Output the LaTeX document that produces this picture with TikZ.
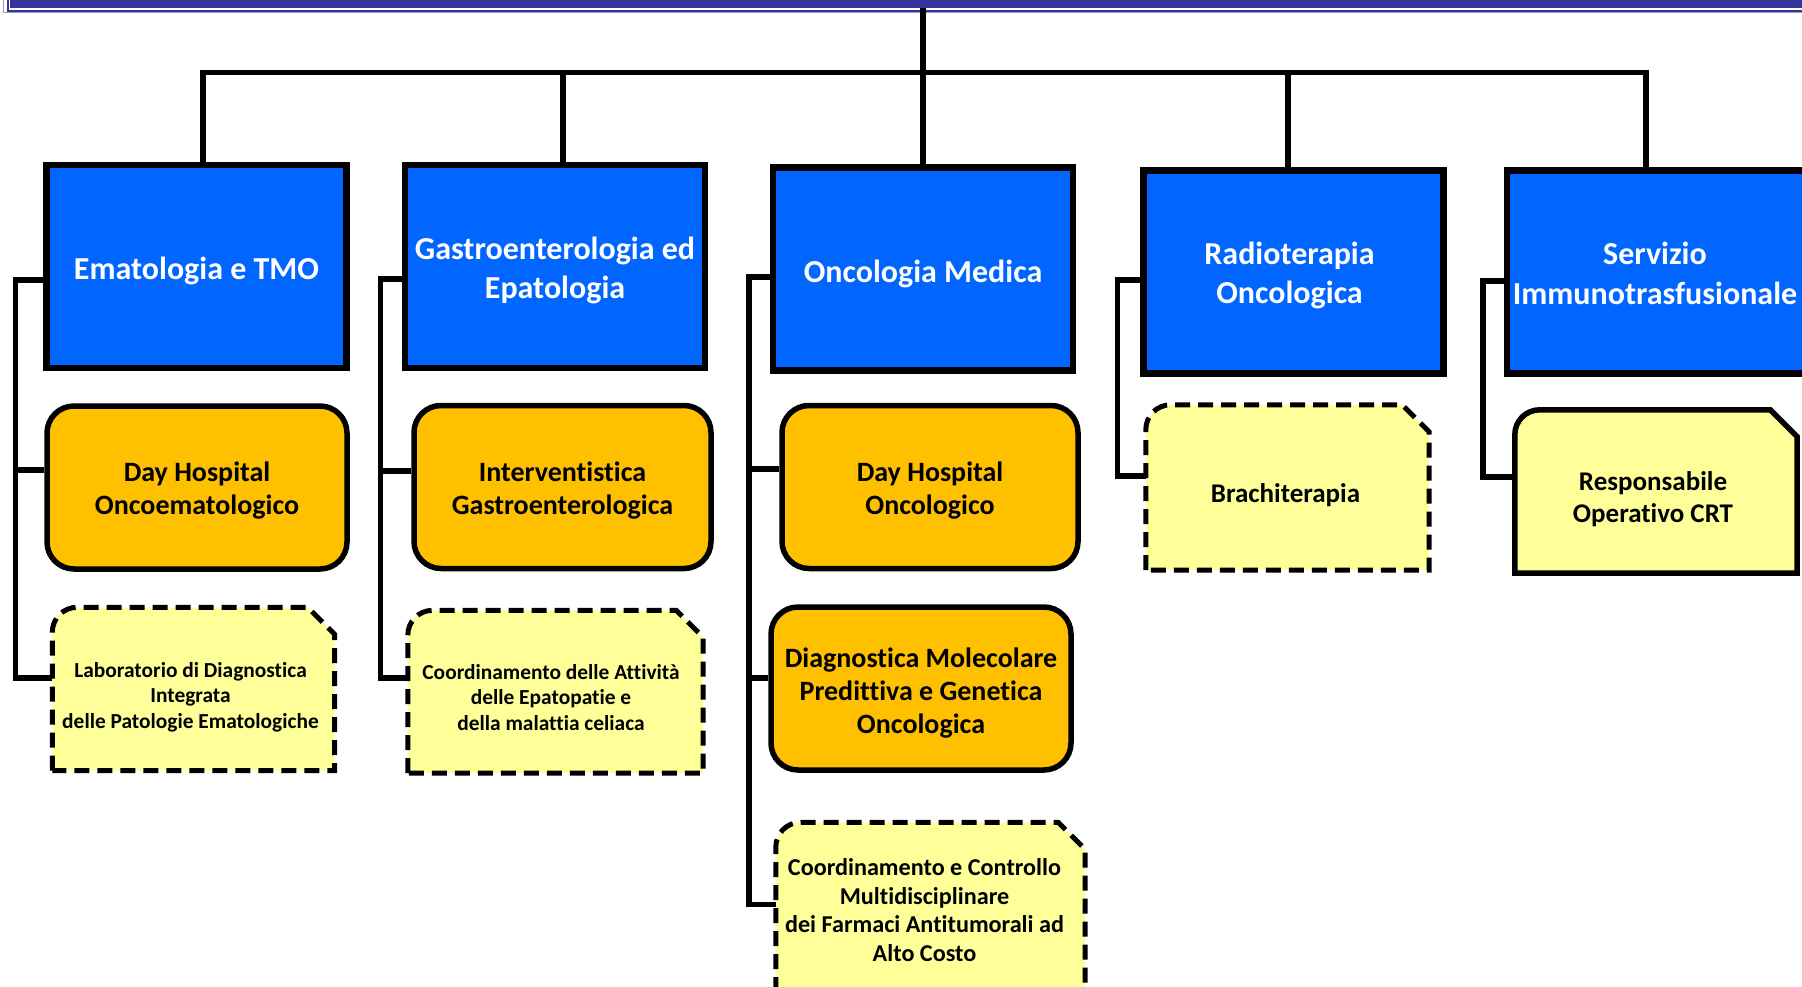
\documentclass[tikz,border=0pt]{standalone}
\usepackage{fontspec}
\setmainfont{Carlito}[Ligatures=NoCommon]
\usepackage{xcolor}
\usetikzlibrary{calc}
\definecolor{unitblue}{HTML}{0066FF}
\definecolor{dhorange}{HTML}{FFC000}
\definecolor{subyellow}{HTML}{FFFF99}
\definecolor{headblue}{HTML}{333399}
\definecolor{headline}{HTML}{9999CC}
% frame with a rounded top left and a cut top right corner
\newcommand{\snipframe}[2][subline]{
  \draw[#1] (#2.south west) -- ([yshift=-25pt]#2.north west)
    .. controls ([yshift=-11pt]#2.north west) and ([xshift=11pt]#2.north west) .. ([xshift=25pt]#2.north west)
    -- ([xshift=-27pt]#2.north east) -- ([yshift=-27pt]#2.north east) -- (#2.south east) -- cycle;
}

\begin{document}
\begin{tikzpicture}[x=1pt, y=-1pt]
	\tikzstyle{unit}=[rectangle, draw=black, line width=6.5pt, fill=unitblue, minimum width=300pt, minimum height=203pt, inner sep=0pt]
	\tikzstyle{unittext}=[text=white, align=center, inner sep=0pt, font=\fontsize{32}{39.5}\selectfont\bfseries]
	\tikzstyle{dh}=[rectangle, rounded corners=27pt, draw=black, line width=5.5pt, fill=dhorange, minimum width=300pt, minimum height=163pt, inner sep=0pt]
	\tikzstyle{dhtext}=[align=center, inner sep=0pt, font=\fontsize{28}{33}\selectfont\bfseries]
	\tikzstyle{sub}=[rectangle, inner sep=0pt]
	\tikzstyle{subline}=[draw=black, fill=subyellow, line width=5pt, dash pattern=on 15pt off 8pt]
	\tikzstyle{subsolid}=[draw=black, fill=subyellow, line width=5.5pt]
	\tikzstyle{subtext}=[align=center, inner sep=0pt, font=\fontsize{21.4}{25.5}\selectfont\bfseries]
	\tikzstyle{link}=[line width=5.5pt]
	\useasboundingbox (0,0) rectangle (1802,986);
	\clip (0,0) rectangle (1802,986);
	% title band
	\fill[headblue] (10,-60) rectangle (1850,7.5);
	\draw[headblue, line width=2pt] (7.8,-60) rectangle (1850,11);
	\draw[headline, line width=1.2pt] (3.8,-60) rectangle (1850,12.8);
	\coordinate (root) at (923,8);
	\coordinate (bus) at (923,72.5);
	% units
	\node[unit] (b1) at (196.5,266.5) {};
	\node[unit] (b2) at (555,266.5) {};
	\node[unit] (b3) at (923,269) {};
	\node[unit] (b4) at (1293.5,272) {};
	\node[unit] (b5) at (1657,272) {};
	\node[unittext] at ([yshift=-4.5pt]b1) {Ematologia e TMO};
	\node[unittext] at ([yshift=-4pt]b2) {Gastroenterologia ed\\Epatologia};
	\node[unittext] at ([yshift=-4.5pt]b3) {Oncologia Medica};
	\node[unittext] at ([xshift=-4pt, yshift=-3.5pt]b4) {Radioterapia\\Oncologica};
	\node[unittext] at ([xshift=-2pt, yshift=-1.5pt]b5) {Servizio\\Immunotrasfusionale};
	% day hospitals etc.
	\node[dh] (o1) at (197,487.5) {};
	\node[dh, minimum width=297pt] (o2) at (562.5,487) {};
	\node[dh, minimum width=296pt] (o3) at (930,487) {};
	\node[dh] (o4) at (921,688.5) {};
	\node[dhtext] at ([yshift=-3.5pt]o1) {Day Hospital\\Oncoematologico};
	\node[dhtext] at ([yshift=-4pt]o2) {Interventistica\\Gastroenterologica};
	\node[dhtext] at ([yshift=-3.5pt]o3) {Day Hospital\\Oncologico};
	\node[dhtext] at ([yshift=-4.5pt]o4) {Diagnostica Molecolare\\Predittiva e Genetica\\Oncologica};
	% simple structures
	\node[sub, minimum width=282pt, minimum height=163pt] (y1) at (193.5,689) {};
	\node[sub, minimum width=295pt, minimum height=162.5pt] (y2) at (555.5,691.75) {};
	\node[sub, minimum width=309pt, minimum height=169.5pt] (y3) at (930.5,907.25) {};
	\node[sub, minimum width=283pt, minimum height=165pt] (y4) at (1287.5,487.5) {};
	\node[sub, minimum width=282pt, minimum height=163pt] (y5) at (1656,491.5) {};
	\snipframe{y1}
	\snipframe{y2}
	\snipframe{y3}
	\snipframe{y4}
	\snipframe[subsolid]{y5}
	\node[subtext] at ([xshift=-3pt, yshift=-8pt]y1) {Laboratorio di Diagnostica\\Integrata\\delle Patologie Ematologiche};
	\node[subtext] at ([xshift=-4.5pt, yshift=-5.5pt]y2) {Coordinamento delle Attività\\delle Epatopatie e\\della malattia celiaca};
	\node[subtext, font=\fontsize{24.2}{28.5}\selectfont\bfseries] at ([xshift=-6pt, yshift=-3pt]y3) {Coordinamento e Controllo\\Multidisciplinare\\dei Farmaci Antitumorali ad\\Alto Costo};
	\node[subtext, font=\fontsize{27}{32}\selectfont\bfseries] at ([xshift=-2pt, yshift=-7.5pt]y4) {Brachiterapia};
	\node[subtext, font=\fontsize{27}{32}\selectfont\bfseries] at ([xshift=-3pt, yshift=-7.5pt]y5) {Responsabile\\Operativo CRT};
	% tree
	\draw[link] (root) -- (bus);
	\draw[link] ([xshift=6.5pt]b1.north) |- (bus);
	\draw[link] ([xshift=8pt]b2.north) |- (bus);
	\draw[link] (b3.north) -- (bus);
	\draw[link] ([xshift=-5.5pt]b4.north) |- (bus);
	\draw[link] ([xshift=-11pt]b5.north) |- (bus);
	% spines
	\coordinate (s1) at (15.5,480);
	\coordinate (s2) at (380.5,480);
	\coordinate (s3) at (749,600);
	\coordinate (s4) at (1117.5,380);
	\coordinate (s5) at (1483,380);
	\draw[link] ([yshift=-13.5pt]b1.west) -| (s1);
	\draw[link] ([yshift=17.5pt]o1.west) -| (s1);
	\draw[link] ([yshift=11pt]y1.west) -| (s1);
	\draw[link] ([yshift=-12.5pt]b2.west) -| (s2);
	\draw[link] ([yshift=16pt]o2.west) -| (s2);
	\draw[link] ([yshift=13.75pt]y2.west) -| (s2);
	\draw[link] ([yshift=-8pt]b3.west) -| (s3);
	\draw[link] ([yshift=18pt]o3.west) -| (s3);
	\draw[link] ([yshift=10.5pt]o4.west) -| (s3);
	\draw[link] ([yshift=3pt]y3.west) -| (s3);
	\draw[link] ([yshift=-8pt]b4.west) -| (s4);
	\draw[link] ([yshift=11.5pt]y4.west) -| (s4);
	\draw[link] ([yshift=-9pt]b5.west) -| (s5);
	\draw[link] ([yshift=14.5pt]y5.west) -| (s5);
\end{tikzpicture}
\end{document}
